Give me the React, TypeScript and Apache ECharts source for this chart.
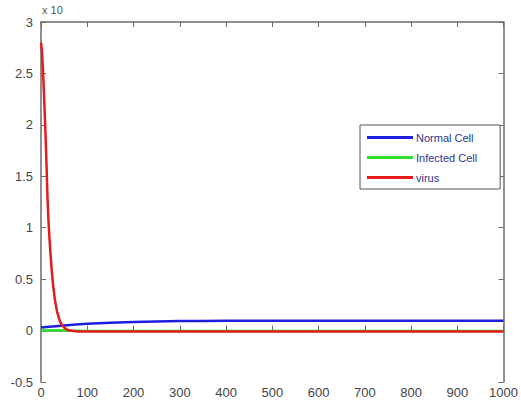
import React, { useEffect, useRef } from "react";
import * as echarts from "echarts";

const xTicks = [0, 100, 200, 300, 400, 500, 600, 700, 800, 900, 1000];
const yTicks = [-0.5, 0, 0.5, 1, 1.5, 2, 2.5, 3];

const seriesNames = ["Normal Cell", "Infected Cell", "virus"];
const seriesColors = ["#1c1ee0", "#2ee02e", "#e21b1b"];

const normalT = [0, 25, 50, 75, 100, 150, 200, 250, 300, 350, 400, 500, 600, 700, 800, 900, 1000];
const normalV = [0.03, 0.04, 0.05, 0.06, 0.067, 0.077, 0.084, 0.089, 0.092, 0.094, 0.095, 0.096, 0.096, 0.096, 0.096, 0.096, 0.096];

const infectedT = [0, 20, 40, 60, 100, 200, 400, 600, 800, 1000];
const infectedV = [0, 0.002, 0.002, 0, -0.003, -0.004, -0.004, -0.004, -0.004, -0.004];

const virusT = [0, 2, 4, 6, 8, 10, 12, 14, 16, 18, 20, 23, 26, 30, 35, 40, 45, 50, 55, 60, 70, 80, 100, 200, 400, 600, 800, 1000];
const virusV = [2.8, 2.72, 2.55, 2.35, 2.12, 1.88, 1.6, 1.3, 1.08, 0.92, 0.78, 0.6, 0.45, 0.3, 0.18, 0.1, 0.055, 0.03, 0.012, 0.003, -0.005, -0.008, -0.01, -0.01, -0.01, -0.01, -0.01, -0.01];

const zip = (a: number[], b: number[]) => a.map((t, i) => [t, b[i]]);

export default function App() {
  const ref = useRef<HTMLDivElement>(null);
  useEffect(() => {
    const chart = echarts.init(ref.current!, null, { renderer: "svg" });
    const axisColor = "#6a6a6a";
    const labelStyle = { color: "#444", fontSize: 13, fontFamily: "Liberation Sans, Arial, sans-serif" };
    chart.setOption({
      animation: false,
      backgroundColor: "#ffffff",
      textStyle: { fontFamily: "Liberation Sans, Arial, sans-serif" },
      graphic: [
        { type: "text", left: 42, top: 4, style: { text: "x 10", fill: "#555", fontSize: 11, fontFamily: "Liberation Sans, Arial, sans-serif" } },
      ],
      grid: { left: 41, right: 10, top: 22, bottom: 22, containLabel: false },
      legend: {
        orient: "vertical",
        left: 360,
        top: 125,
        itemWidth: 46,
        itemHeight: 3,
        itemGap: 9,
        icon: "rect",
        padding: [7, 23, 6, 7],
        borderColor: "#555",
        borderWidth: 1,
        backgroundColor: "#fff",
        data: seriesNames,
        textStyle: { color: "#2a3590", fontSize: 11, padding: [0, 0, 0, -2], fontFamily: "Liberation Sans, Arial, sans-serif" },
      },
      xAxis: [
        {
          type: "value", min: 0, max: 1000, interval: 100,
          axisLine: { show: true, lineStyle: { color: axisColor, width: 1.5 } },
          axisTick: { show: true, inside: true, length: 5, lineStyle: { color: axisColor } },
          axisLabel: { ...labelStyle, margin: 4, formatter: (v: number) => String(v) },
          splitLine: { show: false },
        },
        {
          type: "value", min: 0, max: 1000, interval: 100, position: "top",
          axisLine: { show: true, onZero: false, lineStyle: { color: axisColor, width: 1.5 } },
          axisTick: { show: true, inside: true, length: 5, lineStyle: { color: axisColor } },
          axisLabel: { show: false },
          splitLine: { show: false },
        },
      ],
      yAxis: [
        {
          type: "value", min: -0.5, max: 3, interval: 0.5,
          axisLine: { show: true, onZero: false, lineStyle: { color: axisColor, width: 1.5 } },
          axisTick: { show: true, inside: true, length: 5, lineStyle: { color: axisColor } },
          axisLabel: { ...labelStyle, margin: 8, formatter: (v: number) => String(v) },
          splitLine: { show: false },
        },
        {
          type: "value", min: -0.5, max: 3, interval: 0.5, position: "right",
          axisLine: { show: true, onZero: false, lineStyle: { color: axisColor, width: 1.5 } },
          axisTick: { show: true, inside: true, length: 5, lineStyle: { color: axisColor } },
          axisLabel: { show: false },
          splitLine: { show: false },
        },
      ],
      series: [
        { name: seriesNames[0], type: "line", data: zip(normalT, normalV), showSymbol: false, color: seriesColors[0], lineStyle: { width: 2.5 } },
        { name: seriesNames[1], type: "line", data: zip(infectedT, infectedV), showSymbol: false, color: seriesColors[1], lineStyle: { width: 2.5 } },
        { name: seriesNames[2], type: "line", data: zip(virusT, virusV), showSymbol: false, color: seriesColors[2], lineStyle: { width: 2.5 } },
      ],
    });
    return () => chart.dispose();
  }, []);
  return <div ref={ref} style={{ width: 521, height: 404, position: "absolute", left: 0, top: 0 }} />;
}
